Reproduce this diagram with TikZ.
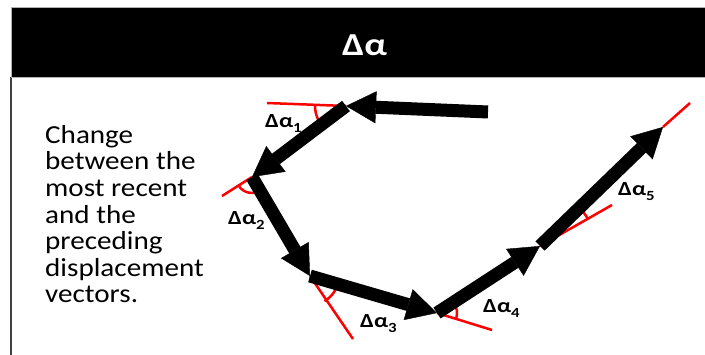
\documentclass[tikz,border=0pt]{standalone}
\usepackage{fontspec}
\setmainfont{Carlito}
\newfontfamily\bodyfont[FakeStretch=1.12]{Carlito}
\newfontfamily\labfont[FakeStretch=1.2]{Carlito}
\usetikzlibrary{arrows.meta}

\newcommand{\dalpha}[1]{Δα\raisebox{-5pt}{\fontsize{14}{14}\selectfont #1}}

\begin{document}
\begin{tikzpicture}[x=1pt,y=-1pt,
  vec/.style={line width=13pt,
    -{Triangle[length=30pt,width=32pt,line width=0.4pt]}},
  ext/.style={red, line width=2.5pt},
  lab/.style={anchor=base west, inner sep=0pt,
    font=\labfont\bfseries\fontsize{20}{20}\selectfont}]
\useasboundingbox (0,0) rectangle (705,355);
\fill[white] (0,0) rectangle (705,355);

% panel frame and title bar
\draw[line width=1.3pt, black!75] (11,77) -- (11,360);
\fill[black] (11,7) rectangle (706,77);
\draw[gray!60, line width=0.8pt] (706,7) -- (11,7) -- (11,77) -- (706,77);
\node[text=white, inner sep=0pt,
  font=\labfont\bfseries\fontsize{32}{32}\selectfont] (title) at (364.5,45) {Δα};

% description
\node[anchor=north west, inner sep=0pt, align=left,
  font=\bodyfont\fontsize{26}{26.6}\selectfont] (desc) at (45,125)
  {Change\\between the\\most recent\\and the\\preceding\\displacement\\vectors.};

% path vertices
\coordinate (p0) at (488,112);
\coordinate (p1) at (346,106);
\coordinate (p2) at (252,177);
\coordinate (p3) at (310,276);
\coordinate (p4) at (437,313);
\coordinate (p5) at (540,246);
\coordinate (p6) at (663,127);

% extensions of each vector past its head
\coordinate (e1) at (267,103);
\coordinate (e2) at (222,196);
\coordinate (e3) at (353,339);
\coordinate (e4) at (492,330);
\coordinate (e5) at (612,205);
\coordinate (e6) at (690,103);

\draw[ext] (p1) -- (e1);
\draw[ext] (p2) -- (e2);
\draw[ext] (p3) -- (e3);
\draw[ext] (p4) -- (e4);
\draw[ext] (p5) -- (e5);
\draw[ext] (p6) -- (e6);

% turning-angle marks
\draw[ext] (p1) ++(150:31) arc[start angle=150, end angle=182, radius=31];
\draw[ext] (p2) ++(60:16) arc[start angle=60, end angle=143, radius=16];
\draw[ext] (p3) ++(16:29) arc[start angle=16, end angle=60, radius=29];
\draw[ext] (p4) ++(-33:20) arc[start angle=-33, end angle=16, radius=20];
\draw[ext] (p5) ++(-44:55) arc[start angle=-44, end angle=-30, radius=55];

% displacement vectors
\draw[vec] (p0) -- (p1);
\draw[vec] (p1) -- (p2);
\draw[vec] (p2) -- (p3);
\draw[vec] (p3) -- (p4);
\draw[vec] (p4) -- (p5);
\draw[vec] (p5) -- (p6);

% angle labels
\node[lab] (a1) at (265,128) {\dalpha{1}};
\node[lab] (a2) at (228,225) {\dalpha{2}};
\node[lab] (a3) at (360,328) {\dalpha{3}};
\node[lab] (a4) at (483,313) {\dalpha{4}};
\node[lab] (a5) at (618,196) {\dalpha{5}};
\end{tikzpicture}
\end{document}
